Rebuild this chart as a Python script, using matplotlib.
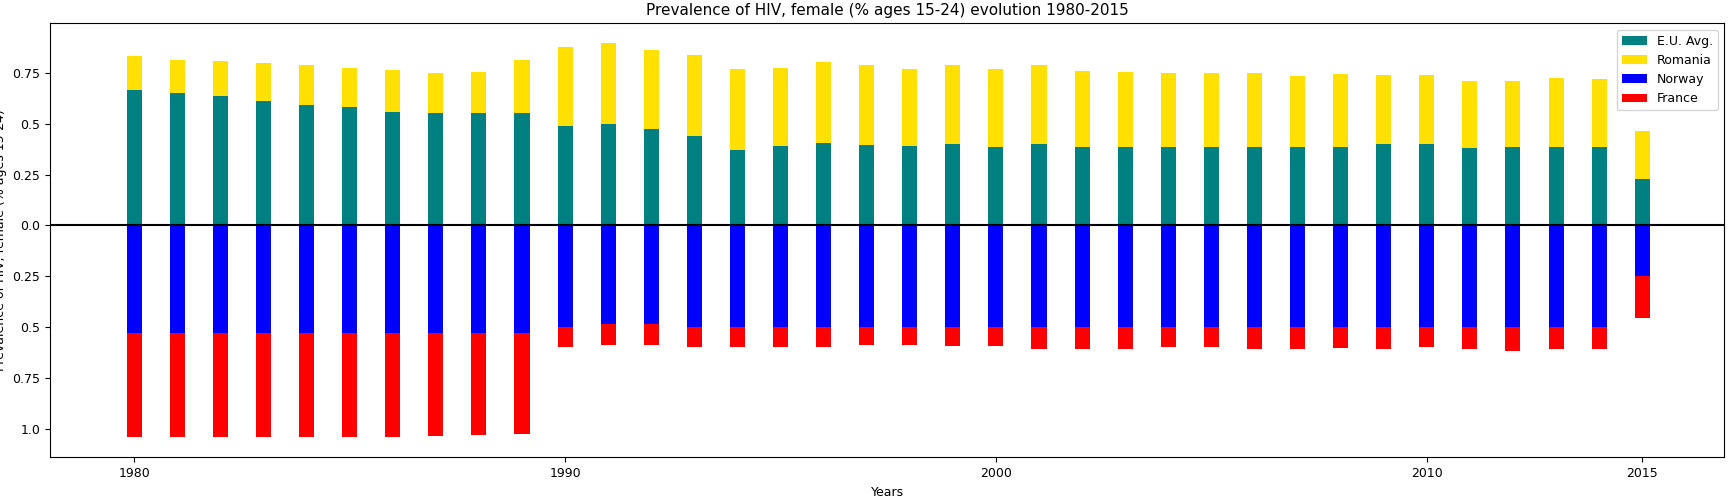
import numpy as np
import matplotlib.pyplot as plt

years = list(range(1980, 2016))

eu_avg = [0.668, 0.652, 0.636, 0.614, 0.592, 0.582, 0.560, 0.554, 0.554, 0.554,
          0.489, 0.500, 0.473, 0.440, 0.370, 0.391, 0.408, 0.397, 0.391, 0.402,
          0.386, 0.402, 0.386, 0.386, 0.386, 0.386, 0.386, 0.386, 0.386, 0.402,
          0.402, 0.380, 0.386, 0.386, 0.386, 0.228]
eu_plus_romania = [0.832, 0.815, 0.810, 0.799, 0.788, 0.777, 0.766, 0.750, 0.755, 0.815,
                   0.880, 0.897, 0.864, 0.837, 0.772, 0.777, 0.804, 0.788, 0.772, 0.788,
                   0.772, 0.788, 0.761, 0.755, 0.750, 0.750, 0.750, 0.734, 0.745, 0.739,
                   0.739, 0.712, 0.712, 0.728, 0.723, 0.467]
norway = [0.527] * 10 + [0.500, 0.484, 0.484] + [0.500] * 22 + [0.250]
norway_plus_france = [1.043, 1.043, 1.043, 1.040, 1.043, 1.043, 1.040, 1.037, 1.032, 1.027,
                      0.600, 0.590, 0.590, 0.600, 0.600, 0.600, 0.600, 0.590, 0.590, 0.595,
                      0.595, 0.610, 0.610, 0.610, 0.600, 0.600, 0.610, 0.610, 0.605, 0.610,
                      0.600, 0.610, 0.620, 0.610, 0.610, 0.457]

eu_avg = np.array(eu_avg)
romania = np.array(eu_plus_romania) - eu_avg
norway = np.array(norway)
france = np.array(norway_plus_france) - norway

fig = plt.figure(figsize=(17.31, 4.96), dpi=100)
ax = fig.add_axes([0.029, 0.078, 0.967, 0.875])
w = 0.35
ax.bar(years, eu_avg, w, color='#008080', label='E.U. Avg.')
ax.bar(years, romania, w, bottom=eu_avg, color='#FFE000', label='Romania')
ax.bar(years, -norway, w, color='#0000FF', label='Norway')
ax.bar(years, -france, w, bottom=-norway, color='#FF0000', label='France')
ax.axhline(0, color='black', linewidth=1.5)

ticks = [0.75, 0.5, 0.25, 0.0, -0.25, -0.5, -0.75, -1.0]
ax.set_yticks(ticks)
ax.set_yticklabels([str(abs(t)) for t in ticks])
ax.set_xticks([1980, 1990, 2000, 2010, 2015])
ax.set_xlim(1978.05, 2016.9)
ax.set_ylim(-1.141, 0.995)
ax.tick_params(labelsize=9)
ax.set_xlabel('Years', fontsize=9)
ax.set_ylabel('Prevalence of HIV, female (% ages 15-24)', fontsize=9)
ax.set_title('Prevalence of HIV, female (% ages 15-24) evolution 1980-2015', fontsize=11)
ax.legend(loc='upper right', fontsize=9)
fig.savefig('out.png', dpi=100)
